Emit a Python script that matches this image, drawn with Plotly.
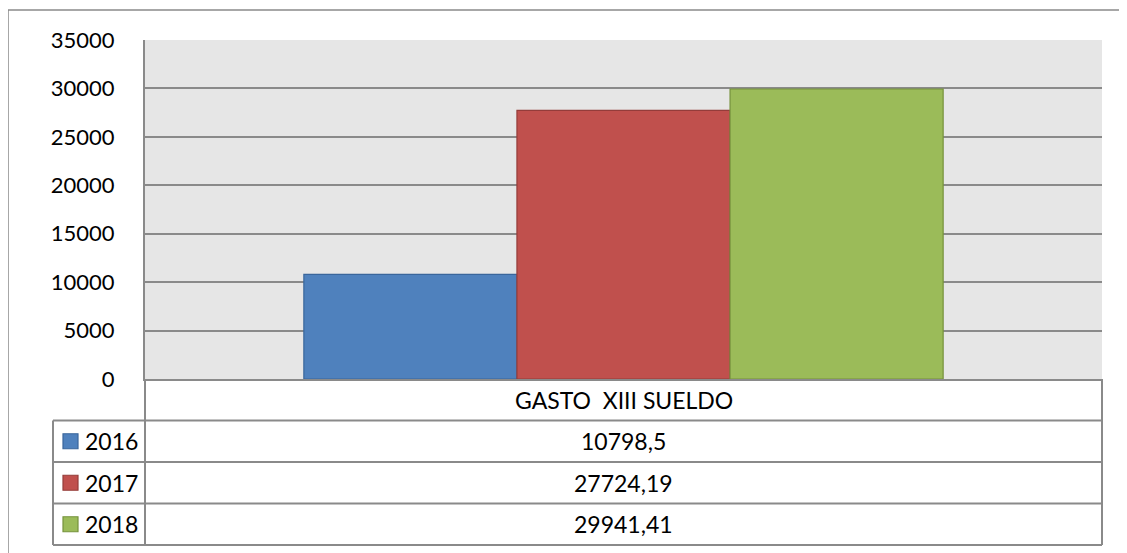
import plotly.graph_objects as go

# ─── Data ──────────────────────────────────────────────────────────────────────

category = "GASTO  XIII SUELDO"
years = ["2016", "2017", "2018"]
values = [10798.5, 27724.19, 29941.41]

colors = ["#4F81BD", "#C0504D", "#9BBB59"]
outlines = ["#3A669C", "#943C3A", "#76923C"]

FONT = "Lato"
GRAY = "#8A8A8A"

# the page body has an 8px margin, so the figure sits at (8, 8) on screen
OFF = 8
W, H = 1127, 553 - OFF
# screen-pixel geometry of the plot area (Excel-like layout)
PL, PR, PT, PB = 145, 1102, 40, 379


def px(x):
    return (x - PL) / (PR - PL)


def py(y):
    return (PB - y) / (PB - PT)


fig = go.Figure()
for yr, v, c, o in zip(years, values, colors, outlines):
    fig.add_trace(go.Bar(
        x=[category], y=[v], name=yr,
        marker=dict(color=c, line=dict(color=o, width=1.2)),
        hoverinfo="y",
    ))

# ─── Data table under the axis ────────────────────────────────────────────────

row_top = 379
row_h = 41.5
shapes = []
annotations = []

line = dict(color=GRAY, width=2)
txt = dict(family=FONT, size=23, color="black")

# outer chart border
shapes.append(dict(type="rect", xref="paper", yref="paper",
                   x0=px(8), x1=px(1140), y0=py(10), y1=py(570), line=dict(color=GRAY, width=1.5)))

# header row (category)
annotations.append(dict(xref="paper", yref="paper", x=0.5, y=py(row_top + row_h / 2),
                        xanchor="center", yanchor="middle",
                        text=category, showarrow=False, font=txt))

rows_bottom = row_top + row_h * (len(years) + 1)
for i in range(1, len(years) + 2):
    yy = row_top + row_h * i
    shapes.append(dict(type="line", xref="paper", yref="paper",
                       x0=px(53), x1=px(PR), y0=py(yy), y1=py(yy), line=line))
shapes.append(dict(type="line", xref="paper", yref="paper",
                   x0=px(53), x1=px(53), y0=py(row_top + row_h), y1=py(rows_bottom), line=line))
shapes.append(dict(type="line", xref="paper", yref="paper",
                   x0=0, x1=0, y0=py(PB), y1=py(rows_bottom), line=line))
shapes.append(dict(type="line", xref="paper", yref="paper",
                   x0=1, x1=1, y0=py(PB), y1=py(rows_bottom), line=line))

for i, (yr, v, c, o) in enumerate(zip(years, values, colors, outlines)):
    yc = row_top + row_h * (i + 1.5)
    shapes.append(dict(type="rect", xref="paper", yref="paper",
                       x0=px(63), x1=px(78), y0=py(yc - 7.5), y1=py(yc + 7.5),
                       fillcolor=c, line=dict(color=o, width=1.2)))
    annotations.append(dict(xref="paper", yref="paper", x=px(83), y=py(yc),
                            xanchor="left", yanchor="middle",
                            text=yr, showarrow=False, font=txt))
    annotations.append(dict(xref="paper", yref="paper", x=0.5, y=py(yc),
                            xanchor="center", yanchor="middle",
                            text=str(v).replace(".", ","), showarrow=False, font=txt))

fig.update_layout(
    width=W, height=H,
    margin=dict(l=PL - OFF, r=W + OFF - PR, t=PT - OFF, b=553 - PB),
    paper_bgcolor="white",
    plot_bgcolor="#E6E6E6",
    barmode="group",
    bargap=0.332,
    bargroupgap=0,
    showlegend=False,
    shapes=shapes,
    annotations=annotations,
    font=dict(family=FONT, size=22, color="black"),
)
fig.update_xaxes(showticklabels=False, showgrid=False, zeroline=False,
                 showline=True, linecolor=GRAY, linewidth=2)
fig.update_yaxes(range=[0, 35000], dtick=5000, tickformat="d",
                 showgrid=True, gridcolor=GRAY, gridwidth=2,
                 zeroline=False, showline=True, linecolor=GRAY, linewidth=2,
                 ticks="", ticklabelstandoff=24,
                 tickfont=dict(family=FONT, size=22, color="black"))

fig.write_html("out.html")
